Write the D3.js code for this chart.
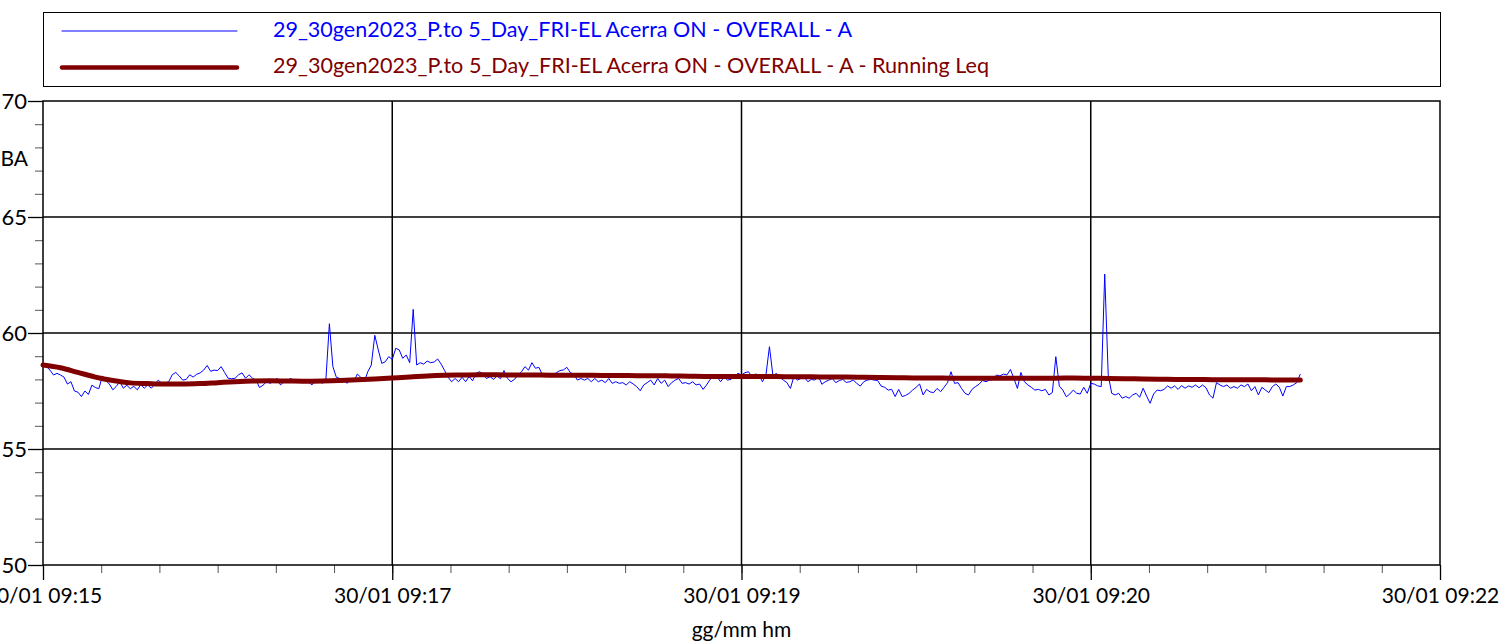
<!DOCTYPE html>
<html>
<head>
<meta charset="utf-8">
<script src="https://cdn.jsdelivr.net/npm/d3@7/dist/d3.min.js"></script>
<style>
body{margin:0;background:#fff;overflow:hidden;}
text{font-family:Lato,"Open Sans",sans-serif;}
</style>
</head>
<body>
<script>
// Names of the two series (legend)
var seriesNames = [
  "29_30gen2023_P.to 5_Day_FRI-EL Acerra ON - OVERALL - A",
  "29_30gen2023_P.to 5_Day_FRI-EL Acerra ON - OVERALL - A - Running Leq"
];
var xTickLabels = ["30/01 09:15","30/01 09:17","30/01 09:19","30/01 09:20","30/01 09:22"];
var yTicks = [50,55,60,65,70];
var yTitle = "dBA";
var xTitle = "gg/mm hm";

// start of the measurement, one value every second for levelA
var startTime = new Date(2023,0,30,9,15,20);
var endTime = new Date(2023,0,30,9,22,0);

// LAeq 1s values, dB(A)
var levelA = [
 58.62,58.55,58.4,58.19,58.26,58.19,58.1,57.8,57.9,57.5,
 57.45,57.26,57.5,57.35,57.75,57.65,57.6,58.15,57.95,57.8,
 57.55,57.7,57.9,57.62,57.75,57.6,57.7,57.55,57.78,57.62,
 57.76,57.62,57.78,57.97,57.83,57.85,57.9,58.2,58.3,58.15,
 57.97,58.0,58.2,58.1,58.22,58.28,58.4,58.6,58.35,58.4,
 58.38,58.55,58.3,58.05,58.03,58.05,58.2,58.28,58.05,58.2,
 58.05,57.97,57.65,57.75,57.9,57.83,57.9,58.05,57.76,57.9,
 57.97,58.04,57.9,57.97,57.9,57.97,57.9,57.76,57.97,57.94,
 57.83,58.0,60.4,58.55,58.09,58.04,58.03,57.83,57.97,57.9,
 58.23,58.09,57.9,58.33,58.62,59.9,59.27,58.69,58.76,58.98,
 58.86,59.34,59.27,58.91,59.05,58.72,61.02,58.62,58.72,58.66,
 58.79,58.72,58.75,58.88,58.66,58.38,58.09,57.9,58.04,57.9,
 58.09,57.9,58.12,57.94,58.26,58.33,58.23,58.04,58.12,58.0,
 58.15,58.03,58.38,58.04,57.9,58.0,58.19,58.33,58.55,58.4,
 58.72,58.48,58.52,58.19,58.12,58.26,58.19,58.29,58.38,58.41,
 58.52,58.29,58.23,57.97,58.04,57.97,58.04,57.9,58.04,57.9,
 57.97,57.86,58.04,57.83,57.9,57.83,57.86,57.76,57.9,57.8,
 57.69,57.51,57.76,57.86,57.97,57.76,58.04,57.83,57.97,57.69,
 57.86,57.97,58.04,57.83,57.86,57.8,57.9,57.76,57.8,57.57,
 57.76,58.0,58.12,58.12,57.9,58.09,57.97,58.0,58.15,58.26,
 58.19,58.29,58.33,58.12,58.23,58.19,57.9,58.19,59.41,58.16,
 58.26,58.09,57.97,57.86,57.61,58.12,57.97,58.04,58.09,57.9,
 58.0,57.97,58.16,57.79,57.9,57.97,58.04,57.86,57.95,58.0,
 57.87,57.9,57.97,57.83,57.71,57.9,57.97,58.0,57.97,57.95,
 57.71,57.66,57.54,57.57,57.26,57.57,57.26,57.31,57.4,57.54,
 57.66,57.8,57.33,57.57,57.46,57.43,57.61,57.47,57.66,57.86,
 58.33,57.83,57.86,57.61,57.4,57.33,57.57,57.69,57.79,57.95,
 57.9,57.97,58.0,58.19,58.15,58.23,58.19,58.43,58.04,57.61,
 58.3,57.9,57.76,57.66,57.54,57.57,57.51,57.57,57.33,57.43,
 58.98,57.71,57.54,57.25,57.37,57.54,57.4,57.37,57.66,57.4,
 57.83,57.8,57.72,57.69,62.54,58.2,57.4,57.33,57.4,57.19,
 57.26,57.19,57.33,57.4,57.23,57.62,57.28,56.97,57.37,57.54,
 57.51,57.57,57.72,57.62,57.72,57.57,57.73,57.62,57.72,57.66,
 57.76,57.64,57.76,57.64,57.33,57.19,57.86,57.76,57.69,57.76,
 57.62,57.69,57.62,57.76,57.69,57.8,57.51,57.69,57.33,57.66,
 57.54,57.43,57.69,57.8,57.66,57.28,57.69,57.69,57.76,57.86,
 58.23
];

// Running Leq, one value every 5 s
var leqStep = 5;
var runningLeq = [
 58.62,58.5,58.3,58.1,57.95,57.85,57.82,57.8,57.8,57.82,
 57.86,57.9,57.93,57.94,57.93,57.92,57.93,57.95,57.98,58.02,
 58.06,58.1,58.15,58.18,58.19,58.2,58.2,58.19,58.19,58.18,
 58.18,58.18,58.17,58.17,58.16,58.16,58.15,58.14,58.13,58.13,
 58.12,58.12,58.12,58.11,58.11,58.1,58.1,58.09,58.08,58.07,
 58.06,58.06,58.05,58.05,58.05,58.05,58.05,58.05,58.05,58.06,
 58.05,58.04,58.03,58.02,58.01,58.0,58.0,57.99,57.99,57.98,
 57.98,57.97,57.97
];

var width = 1503, height = 641;
var plot = {left:43, right:1440, top:101, bottom:565};

var svg = d3.select("body").append("svg")
    .attr("width",width)
    .attr("height",height);

//scales
var x = d3.scaleTime().domain([startTime,endTime]).range([plot.left,plot.right]);
var y = d3.scaleLinear().domain([50,70]).range([plot.bottom,plot.top]);

function timeAt(sec){ return new Date(+startTime + sec*1000); }

var majorX = d3.range(xTickLabels.length).map(function(i){ return timeAt(i*100); });
var minorX = d3.range(0,25).map(function(i){ return timeAt(i*100/6); });
var minorY = d3.range(50,71);

//minor ticks first
svg.append("g")
    .attr("transform","translate(0,"+plot.bottom+")")
    .call(d3.axisBottom(x).tickValues(minorX).tickSize(8).tickFormat(""))
    .call(function(g){ g.select(".domain").remove(); g.selectAll("line").attr("stroke","#555"); });

svg.append("g")
    .attr("transform","translate("+plot.left+",0)")
    .call(d3.axisLeft(y).tickValues(minorY).tickSize(8).tickFormat(""))
    .call(function(g){ g.select(".domain").remove(); g.selectAll("line").attr("stroke","#555"); });

//major ticks and labels
svg.append("g")
    .attr("transform","translate(0,"+plot.bottom+")")
    .call(d3.axisBottom(x).tickValues(majorX).tickSize(15).tickPadding(8)
        .tickFormat(function(d,i){ return xTickLabels[i]; }))
    .call(function(g){
        g.select(".domain").remove();
        g.selectAll("line").attr("stroke","#000").attr("stroke-width",1.3);
        g.selectAll("text").attr("font-size",21).attr("fill","#000")
            .attr("font-family","Lato, 'Open Sans', sans-serif");
    });

svg.append("g")
    .attr("transform","translate("+plot.left+",0)")
    .call(d3.axisLeft(y).tickValues(yTicks).tickSize(15).tickPadding(1))
    .call(function(g){
        g.select(".domain").remove();
        g.selectAll("line").attr("stroke","#000").attr("stroke-width",1.3);
        g.selectAll("text").attr("font-size",22).attr("fill","#000")
            .attr("font-family","Lato, 'Open Sans', sans-serif");
    });

//grid lines
svg.append("g").selectAll("line")
    .data(yTicks.slice(1,-1))
    .enter().append("line")
    .attr("x1",plot.left).attr("x2",plot.right)
    .attr("y1",function(d){ return y(d); }).attr("y2",function(d){ return y(d); })
    .attr("stroke","#000").attr("stroke-width",1.5);

svg.append("g").selectAll("line")
    .data(majorX.slice(1,-1))
    .enter().append("line")
    .attr("x1",function(d){ return x(d); }).attr("x2",function(d){ return x(d); })
    .attr("y1",plot.top).attr("y2",plot.bottom)
    .attr("stroke","#000").attr("stroke-width",1.5);

//frame
svg.append("rect")
    .attr("x",plot.left).attr("y",plot.top)
    .attr("width",plot.right-plot.left).attr("height",plot.bottom-plot.top)
    .attr("fill","none").attr("stroke","#000").attr("stroke-width",1.5);

//series
var lineA = d3.line()
    .x(function(d,i){ return x(timeAt(i)); })
    .y(function(d){ return y(d); });

var lineLeq = d3.line()
    .x(function(d,i){ return x(timeAt(i*leqStep)); })
    .y(function(d){ return y(d); })
    .curve(d3.curveMonotoneX);

svg.append("path")
    .datum(levelA)
    .attr("d",lineA)
    .attr("fill","none").attr("stroke","#0000ff").attr("stroke-width",1);

svg.append("path")
    .datum(runningLeq)
    .attr("d",lineLeq)
    .attr("fill","none").attr("stroke","#800000").attr("stroke-width",5)
    .attr("stroke-linejoin","round").attr("stroke-linecap","round");

//axis titles
svg.append("text").text(yTitle)
    .attr("x",28).attr("y",y(67.5)).attr("dy","0.35em")
    .attr("text-anchor","end").attr("font-size",21);

svg.append("text").text(xTitle)
    .attr("x",x(majorX[2])).attr("y",637)
    .attr("text-anchor","middle").attr("font-size",21);

//legend
var legend = svg.append("g");
legend.append("rect")
    .attr("x",43.5).attr("y",12.5).attr("width",1397).attr("height",74)
    .attr("fill","#fff").attr("stroke","#000").attr("stroke-width",1);

var legendItems = [
    {name:seriesNames[0], color:"#0000ff", w:1, cy:31, len:579},
    {name:seriesNames[1], color:"#800000", w:4.5, cy:67.5, len:716}
];
legendItems.forEach(function(d){
    legend.append("line")
        .attr("x1",62).attr("x2",237).attr("y1",d.cy).attr("y2",d.cy)
        .attr("stroke",d.color).attr("stroke-width",d.w).attr("stroke-linecap","round");
    legend.append("text").text(d.name)
        .attr("x",273).attr("y",d.cy+5.5)
        .attr("font-size",22).attr("fill",d.color)
        .attr("textLength",d.len).attr("lengthAdjust","spacingAndGlyphs");
});
</script>
</body>
</html>
